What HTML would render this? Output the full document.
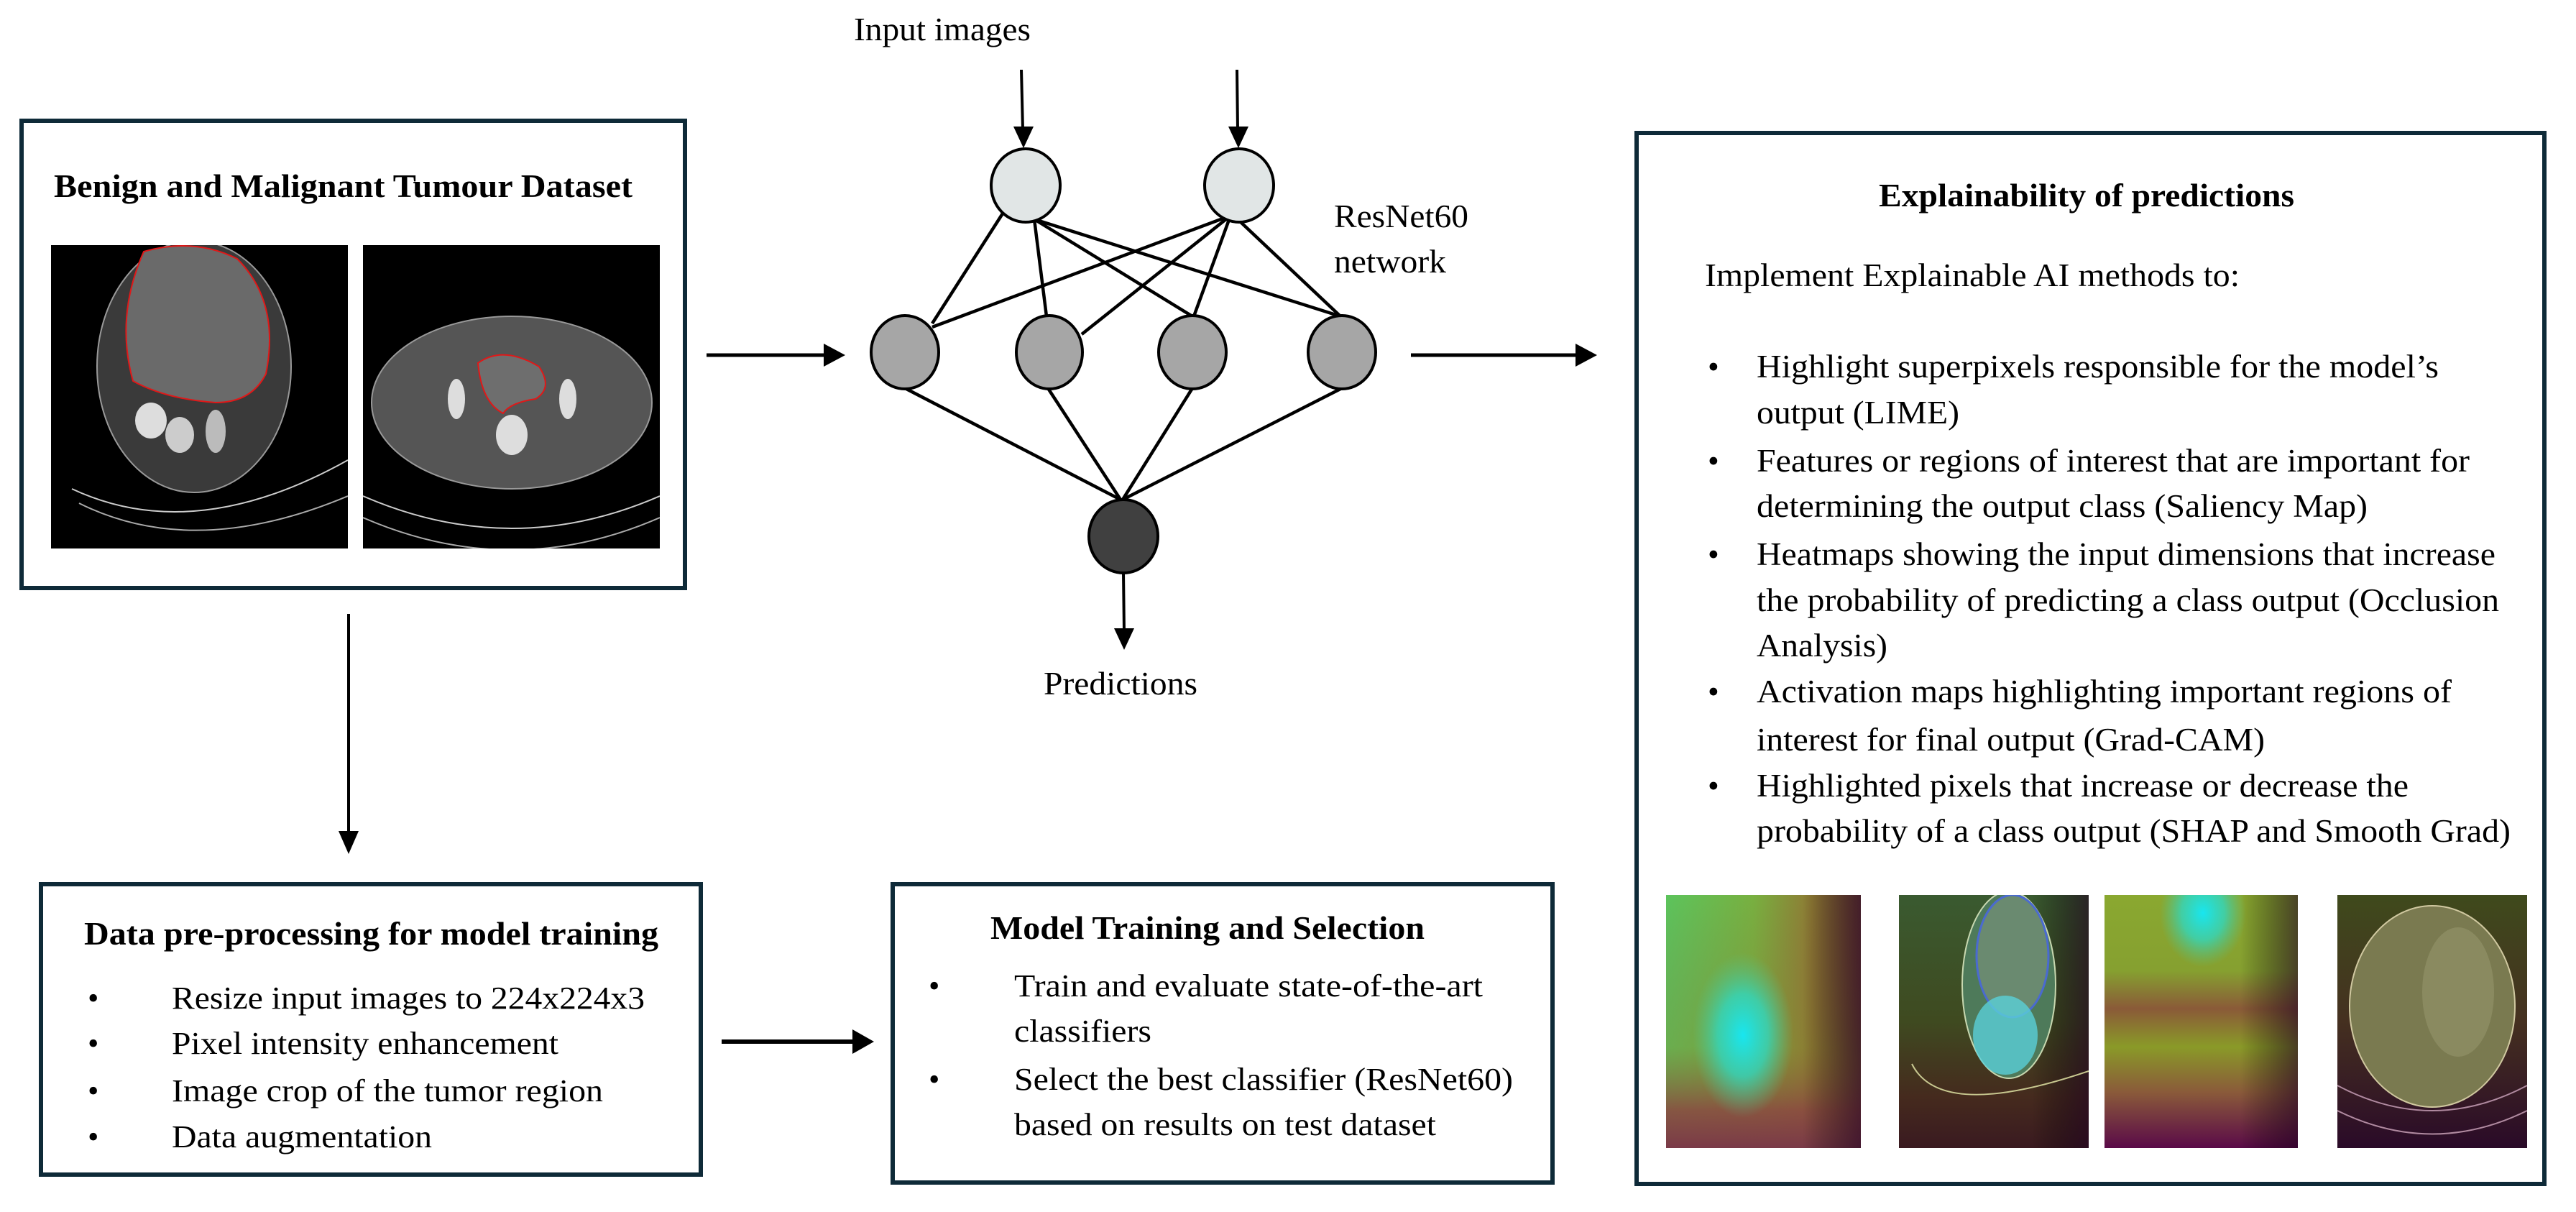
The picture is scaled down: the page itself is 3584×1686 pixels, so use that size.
<!DOCTYPE html>
<html><head><meta charset="utf-8"><style>
html,body{margin:0;padding:0;background:#fff;}
svg{display:block;}
text{font-family:"Liberation Serif",serif;fill:#000;}
.b{font-weight:bold;}
</style></head><body>
<svg width="3584" height="1686" viewBox="0 0 3584 1686" xmlns="http://www.w3.org/2000/svg">
<defs>
<linearGradient id="h1" x1="0" y1="0" x2="1" y2="0">
<stop offset="0" stop-color="#5cc45c"/><stop offset="0.45" stop-color="#78b040"/><stop offset="0.75" stop-color="#8f7a34"/><stop offset="1" stop-color="#7a4a38"/></linearGradient>
<linearGradient id="h1b" x1="0" y1="0" x2="0" y2="1">
<stop offset="0" stop-color="#8a4a40" stop-opacity="0"/><stop offset="0.6" stop-color="#8a7a30" stop-opacity="0.3"/><stop offset="0.85" stop-color="#8a4a40" stop-opacity="0.9"/><stop offset="1" stop-color="#7a3a48" stop-opacity="1"/></linearGradient>
<radialGradient id="cy" cx="0.5" cy="0.5" r="0.5">
<stop offset="0" stop-color="#18e6f0"/><stop offset="0.5" stop-color="#30d8c0" stop-opacity="0.8"/><stop offset="1" stop-color="#50c890" stop-opacity="0"/></radialGradient>
<linearGradient id="h3" x1="0" y1="0" x2="0" y2="1">
<stop offset="0" stop-color="#8aa830"/><stop offset="0.3" stop-color="#86a030"/><stop offset="0.45" stop-color="#8a5a38"/><stop offset="0.6" stop-color="#8a9a28"/><stop offset="0.78" stop-color="#8a5a3a"/><stop offset="1" stop-color="#5a0a48"/></linearGradient>
<linearGradient id="h2" x1="0" y1="0" x2="0" y2="1">
<stop offset="0" stop-color="#3a5a30"/><stop offset="0.5" stop-color="#3f4a20"/><stop offset="0.8" stop-color="#452a1e"/><stop offset="1" stop-color="#3a1a20"/></linearGradient>
<linearGradient id="h4" x1="0" y1="0" x2="0" y2="1">
<stop offset="0" stop-color="#3f4a1c"/><stop offset="0.5" stop-color="#453020"/><stop offset="1" stop-color="#2a0a28"/></linearGradient>
<linearGradient id="dk" x1="0" y1="0" x2="1" y2="0">
<stop offset="0" stop-color="#000" stop-opacity="0"/><stop offset="0.7" stop-color="#000" stop-opacity="0"/><stop offset="1" stop-color="#200020" stop-opacity="0.6"/></linearGradient>
<clipPath id="c1"><rect x="2318" y="1245" width="271" height="352"/></clipPath>
<clipPath id="c2"><rect x="2642" y="1245" width="264" height="352"/></clipPath>
<clipPath id="c3"><rect x="2928" y="1245" width="269" height="352"/></clipPath>
<clipPath id="c4"><rect x="3252" y="1245" width="264" height="352"/></clipPath>
<clipPath id="ct1"><rect x="71" y="341" width="413" height="422"/></clipPath>
<clipPath id="ct2"><rect x="505" y="341" width="413" height="422"/></clipPath>
</defs>

<!-- Box 1 -->
<rect x="30" y="168" width="923" height="650" fill="#fff" stroke="#0e2a38" stroke-width="6"/>
<text class="b" x="75" y="274" font-size="46" textLength="805" lengthAdjust="spacingAndGlyphs">Benign and Malignant Tumour Dataset</text>
<g clip-path="url(#ct1)">
<rect x="71" y="341" width="413" height="422" fill="#000"/>
<ellipse cx="270" cy="510" rx="135" ry="175" fill="#3a3a3a" stroke="#999" stroke-width="2"/>
<path d="M200 350 Q270 330 330 360 Q390 420 370 520 Q350 560 300 560 Q230 555 185 530 Q160 440 200 350Z" fill="#6a6a6a" stroke="#e01818" stroke-width="2"/>
<ellipse cx="210" cy="585" rx="22" ry="25" fill="#ddd"/><ellipse cx="250" cy="605" rx="20" ry="25" fill="#ccc"/><ellipse cx="300" cy="600" rx="14" ry="30" fill="#bbb"/>
<path d="M100 680 Q270 760 484 640" stroke="#ccc" stroke-width="2" fill="none"/>
<path d="M110 700 Q270 780 484 690" stroke="#aaa" stroke-width="2" fill="none"/>
</g>
<g clip-path="url(#ct2)">
<rect x="505" y="341" width="413" height="422" fill="#000"/>
<ellipse cx="712" cy="560" rx="195" ry="120" fill="#555" stroke="#999" stroke-width="2"/>
<path d="M665 505 Q700 480 750 510 Q770 540 745 555 Q710 560 700 575 Q670 560 665 505Z" fill="#6e6e6e" stroke="#e01818" stroke-width="2"/>
<ellipse cx="712" cy="605" rx="22" ry="28" fill="#ddd"/>
<ellipse cx="635" cy="555" rx="12" ry="28" fill="#ddd"/><ellipse cx="790" cy="555" rx="12" ry="28" fill="#ddd"/>
<path d="M505 690 Q712 780 918 690" stroke="#ccc" stroke-width="2" fill="none"/>
<path d="M505 720 Q712 810 918 720" stroke="#aaa" stroke-width="2" fill="none"/>
</g>

<!-- arrow box1 -> network -->
<line x1="983" y1="494" x2="1150" y2="494" stroke="#000" stroke-width="5"/>
<polygon points="1176,494 1146,478 1146,510" fill="#000"/>

<!-- network -->
<text x="1188" y="56" font-size="46" textLength="246" lengthAdjust="spacingAndGlyphs">Input images</text>
<line x1="1421" y1="97" x2="1423" y2="180" stroke="#000" stroke-width="4"/>
<polygon points="1424,206 1410,176 1438,176" fill="#000"/>
<line x1="1721" y1="97" x2="1722" y2="180" stroke="#000" stroke-width="4"/>
<polygon points="1723,206 1709,176 1737,176" fill="#000"/>
<g stroke="#000" stroke-width="4.5">
<line x1="1395" y1="297" x2="1297" y2="450"/>
<line x1="1439" y1="305" x2="1456" y2="440"/>
<line x1="1439" y1="305" x2="1659" y2="440"/>
<line x1="1439" y1="305" x2="1865" y2="440"/>
<line x1="1712" y1="300" x2="1297" y2="455"/>
<line x1="1712" y1="300" x2="1505" y2="465"/>
<line x1="1712" y1="300" x2="1661" y2="440"/>
<line x1="1723" y1="306" x2="1865" y2="440"/>
<line x1="1259" y1="540" x2="1559" y2="695"/>
<line x1="1458" y1="540" x2="1559" y2="695"/>
<line x1="1659" y1="540" x2="1562" y2="695"/>
<line x1="1867" y1="540" x2="1562" y2="695"/>
</g>
<g stroke="#000" stroke-width="4">
<ellipse cx="1427" cy="258" rx="48" ry="51" fill="#e1e6e6"/>
<ellipse cx="1724" cy="258" rx="48" ry="51" fill="#e1e6e6"/>
<ellipse cx="1259" cy="490" rx="47" ry="51" fill="#a6a6a6"/>
<ellipse cx="1460" cy="490" rx="46" ry="51" fill="#a6a6a6"/>
<ellipse cx="1659" cy="490" rx="47" ry="51" fill="#a6a6a6"/>
<ellipse cx="1867" cy="490" rx="47" ry="51" fill="#a6a6a6"/>
<ellipse cx="1563" cy="746" rx="48" ry="51" fill="#404040"/>
</g>
<line x1="1563" y1="797" x2="1564" y2="878" stroke="#000" stroke-width="4"/>
<polygon points="1564,904 1550,874 1578,874" fill="#000"/>
<text x="1452" y="966" font-size="46" textLength="214" lengthAdjust="spacingAndGlyphs">Predictions</text>
<text x="1856" y="316" font-size="46" textLength="187" lengthAdjust="spacingAndGlyphs">ResNet60</text>
<text x="1856" y="379" font-size="46" textLength="156" lengthAdjust="spacingAndGlyphs">network</text>

<!-- arrow network -> explainability -->
<line x1="1963" y1="494" x2="2196" y2="494" stroke="#000" stroke-width="5"/>
<polygon points="2222,494 2192,478 2192,510" fill="#000"/>

<!-- Right box -->
<rect x="2277" y="185" width="1263" height="1462" fill="#fff" stroke="#0e2a38" stroke-width="6"/>
<text class="b" x="2614" y="287" font-size="45" textLength="578" lengthAdjust="spacingAndGlyphs">Explainability of predictions</text>
<text x="2372" y="398" font-size="46" textLength="744" lengthAdjust="spacingAndGlyphs">Implement Explainable AI methods to:</text>
<g font-size="45">
<text x="2376" y="525">•</text>
<text x="2444" y="525" textLength="949" lengthAdjust="spacingAndGlyphs">Highlight superpixels responsible for the model’s</text>
<text x="2444" y="589" textLength="282" lengthAdjust="spacingAndGlyphs">output (LIME)</text>
<text x="2376" y="656">•</text>
<text x="2444" y="656" textLength="992" lengthAdjust="spacingAndGlyphs">Features or regions of interest that are important for</text>
<text x="2444" y="719" textLength="850" lengthAdjust="spacingAndGlyphs">determining the output class (Saliency Map)</text>
<text x="2376" y="786">•</text>
<text x="2444" y="786" textLength="1028" lengthAdjust="spacingAndGlyphs">Heatmaps showing the input dimensions that increase</text>
<text x="2444" y="850" textLength="1033" lengthAdjust="spacingAndGlyphs">the probability of predicting a class output (Occlusion</text>
<text x="2444" y="913" textLength="182" lengthAdjust="spacingAndGlyphs">Analysis)</text>
<text x="2376" y="977">•</text>
<text x="2444" y="977" textLength="967" lengthAdjust="spacingAndGlyphs">Activation maps highlighting important regions of</text>
<text x="2444" y="1044" textLength="707" lengthAdjust="spacingAndGlyphs">interest for final output (Grad-CAM)</text>
<text x="2376" y="1108">•</text>
<text x="2444" y="1108" textLength="907" lengthAdjust="spacingAndGlyphs">Highlighted pixels that increase or decrease the</text>
<text x="2444" y="1171" textLength="1049" lengthAdjust="spacingAndGlyphs">probability of a class output (SHAP and Smooth Grad)</text>
</g>
<!-- heatmaps -->
<g clip-path="url(#c1)">
<rect x="2318" y="1245" width="271" height="352" fill="url(#h1)"/>
<rect x="2318" y="1245" width="271" height="352" fill="url(#h1b)"/>
<rect x="2318" y="1245" width="271" height="352" fill="url(#dk)"/>
<ellipse cx="2425" cy="1440" rx="70" ry="115" fill="url(#cy)"/>
</g>
<g clip-path="url(#c2)">
<rect x="2642" y="1245" width="264" height="352" fill="url(#h2)"/>
<rect x="2642" y="1245" width="264" height="352" fill="url(#dk)"/>
<ellipse cx="2795" cy="1370" rx="65" ry="130" fill="#4e7a5a" stroke="#c8d8b0" stroke-width="2"/>
<ellipse cx="2800" cy="1330" rx="50" ry="85" fill="#6a8a70" stroke="#4a6ad0" stroke-width="3"/>
<ellipse cx="2790" cy="1440" rx="45" ry="55" fill="#5ad0d8" opacity="0.8"/>
<path d="M2660 1480 Q2700 1560 2906 1490" stroke="#c8c890" stroke-width="2" fill="none"/>
</g>
<g clip-path="url(#c3)">
<rect x="2928" y="1245" width="269" height="352" fill="url(#h3)"/>
<rect x="2928" y="1245" width="269" height="352" fill="url(#dk)"/>
<ellipse cx="3065" cy="1270" rx="60" ry="75" fill="url(#cy)"/>
</g>
<g clip-path="url(#c4)">
<rect x="3252" y="1245" width="264" height="352" fill="url(#h4)"/>
<ellipse cx="3384" cy="1400" rx="115" ry="140" fill="#7a7a50" stroke="#d0c8a0" stroke-width="2"/>
<ellipse cx="3420" cy="1380" rx="50" ry="90" fill="#8a8a60"/>
<path d="M3252 1510 Q3384 1580 3516 1510" stroke="#b08aa0" stroke-width="2" fill="none"/>
<path d="M3252 1545 Q3384 1610 3516 1545" stroke="#b08aa0" stroke-width="2" fill="none"/>
</g>

<!-- down arrow -->
<line x1="485" y1="854" x2="485" y2="1160" stroke="#000" stroke-width="4"/>
<polygon points="485,1188 471,1156 499,1156" fill="#000"/>

<!-- Box 2 -->
<rect x="57" y="1230" width="918" height="404" fill="#fff" stroke="#0e2a38" stroke-width="6"/>
<text class="b" x="117" y="1314" font-size="46" textLength="799" lengthAdjust="spacingAndGlyphs">Data pre-processing for model training</text>
<g font-size="44">
<text x="122" y="1403">•</text><text x="239" y="1403" textLength="658" lengthAdjust="spacingAndGlyphs">Resize input images to 224x224x3</text>
<text x="122" y="1466">•</text><text x="239" y="1466" textLength="538" lengthAdjust="spacingAndGlyphs">Pixel intensity enhancement</text>
<text x="122" y="1532">•</text><text x="239" y="1532" textLength="600" lengthAdjust="spacingAndGlyphs">Image crop of the tumor region</text>
<text x="122" y="1596">•</text><text x="239" y="1596" textLength="362" lengthAdjust="spacingAndGlyphs">Data augmentation</text>
</g>

<!-- arrow box2 -> box3 -->
<line x1="1004" y1="1449" x2="1190" y2="1449" stroke="#000" stroke-width="6"/>
<polygon points="1216,1449 1186,1432 1186,1466" fill="#000"/>

<!-- Box 3 -->
<rect x="1242" y="1230" width="918" height="415" fill="#fff" stroke="#0e2a38" stroke-width="6"/>
<text class="b" x="1378" y="1306" font-size="46" textLength="604" lengthAdjust="spacingAndGlyphs">Model Training and Selection</text>
<g font-size="44">
<text x="1292" y="1386">•</text><text x="1411" y="1386" textLength="652" lengthAdjust="spacingAndGlyphs">Train and evaluate state-of-the-art</text>
<text x="1411" y="1449" textLength="191" lengthAdjust="spacingAndGlyphs">classifiers</text>
<text x="1292" y="1516">•</text><text x="1411" y="1516" textLength="694" lengthAdjust="spacingAndGlyphs">Select the best classifier (ResNet60)</text>
<text x="1411" y="1579" textLength="587" lengthAdjust="spacingAndGlyphs">based on results on test dataset</text>
</g>
</svg>
</body></html>
